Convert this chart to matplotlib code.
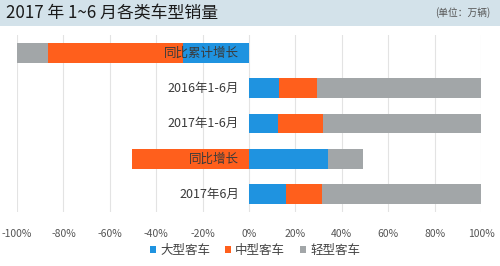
import numpy as np
import matplotlib
matplotlib.use('Agg')
import matplotlib.pyplot as plt
from matplotlib.patches import Rectangle

plt.rcParams['font.family'] = ['Noto Sans CJK SC', 'DejaVu Sans']

# данные (сверху вниз)
cats = ['同比累计增长', '2016年1-6月', '2017年1-6月', '同比增长', '2017年6月']
big = [-28.4, 13.0, 12.5, 33.9, 15.9]      # 大型客车
mid = [-58.4, 16.2, 19.4, -50.6, 15.4]     # 中型客车
light = [-13.2, 70.8, 68.1, 15.4, 68.7]    # 轻型客车
series = ['大型客车', '中型客车', '轻型客车']
colors = ['#1f93e0', '#ff5f1c', '#a2a6a8']
xticks = [-100, -80, -60, -40, -20, 0, 20, 40, 60, 80, 100]

fig = plt.figure(figsize=(5, 2.66), dpi=100)
ax = fig.add_axes([0.034, 0.203, 0.928, 0.665])

# полоса заголовка
fig.patches.append(Rectangle((0, 1 - 26 / 266), 1, 26 / 266, transform=fig.transFigure,
                             facecolor='#d3e2ea', edgecolor='none', zorder=0))
fig.text(0.012, 1 - 13 / 266, '2017 年 1~6 月各类车型销量', fontsize=12.2,
         color='#1a1a1a', va='center', ha='left')
fig.text(0.98, 1 - 13 / 266, '(单位：万辆)', fontsize=7, color='#555555',
         va='center', ha='right')

y = np.arange(len(cats))
pos = np.zeros(len(cats))
neg = np.zeros(len(cats))
for vals, name, c in zip([big, mid, light], series, colors):
    vals = np.array(vals)
    left = np.where(vals >= 0, pos, neg)
    ax.barh(y, vals, left=left, height=0.56, color=c, label=name, zorder=2)
    pos = pos + np.where(vals >= 0, vals, 0)
    neg = neg + np.where(vals < 0, vals, 0)

for i, t in enumerate(cats):
    ax.text(-4.3, i, t, ha='right', va='center', fontsize=9, color='#3a3a3a', zorder=3)

ax.set_xlim(-100, 100)
ax.set_ylim(len(cats) - 0.5, -0.5)
ax.set_xticks(xticks)
ax.set_xticklabels([f'{v}%' for v in xticks], fontsize=7.5, color='#555555')
ax.set_yticks([])
ax.grid(axis='x', color='#e3e3e3', linewidth=0.8, zorder=0)
ax.set_axisbelow(True)
for s in ax.spines.values():
    s.set_visible(False)
ax.tick_params(axis='x', length=0, pad=12)

ax.legend(loc='center', bbox_to_anchor=(0.51, 0.058), bbox_transform=fig.transFigure,
          ncol=3, frameon=False, fontsize=9, handlelength=0.5, handleheight=0.5,
          handletextpad=0.3, columnspacing=1.2, labelcolor='#444444')

plt.savefig('out.png', dpi=100)
